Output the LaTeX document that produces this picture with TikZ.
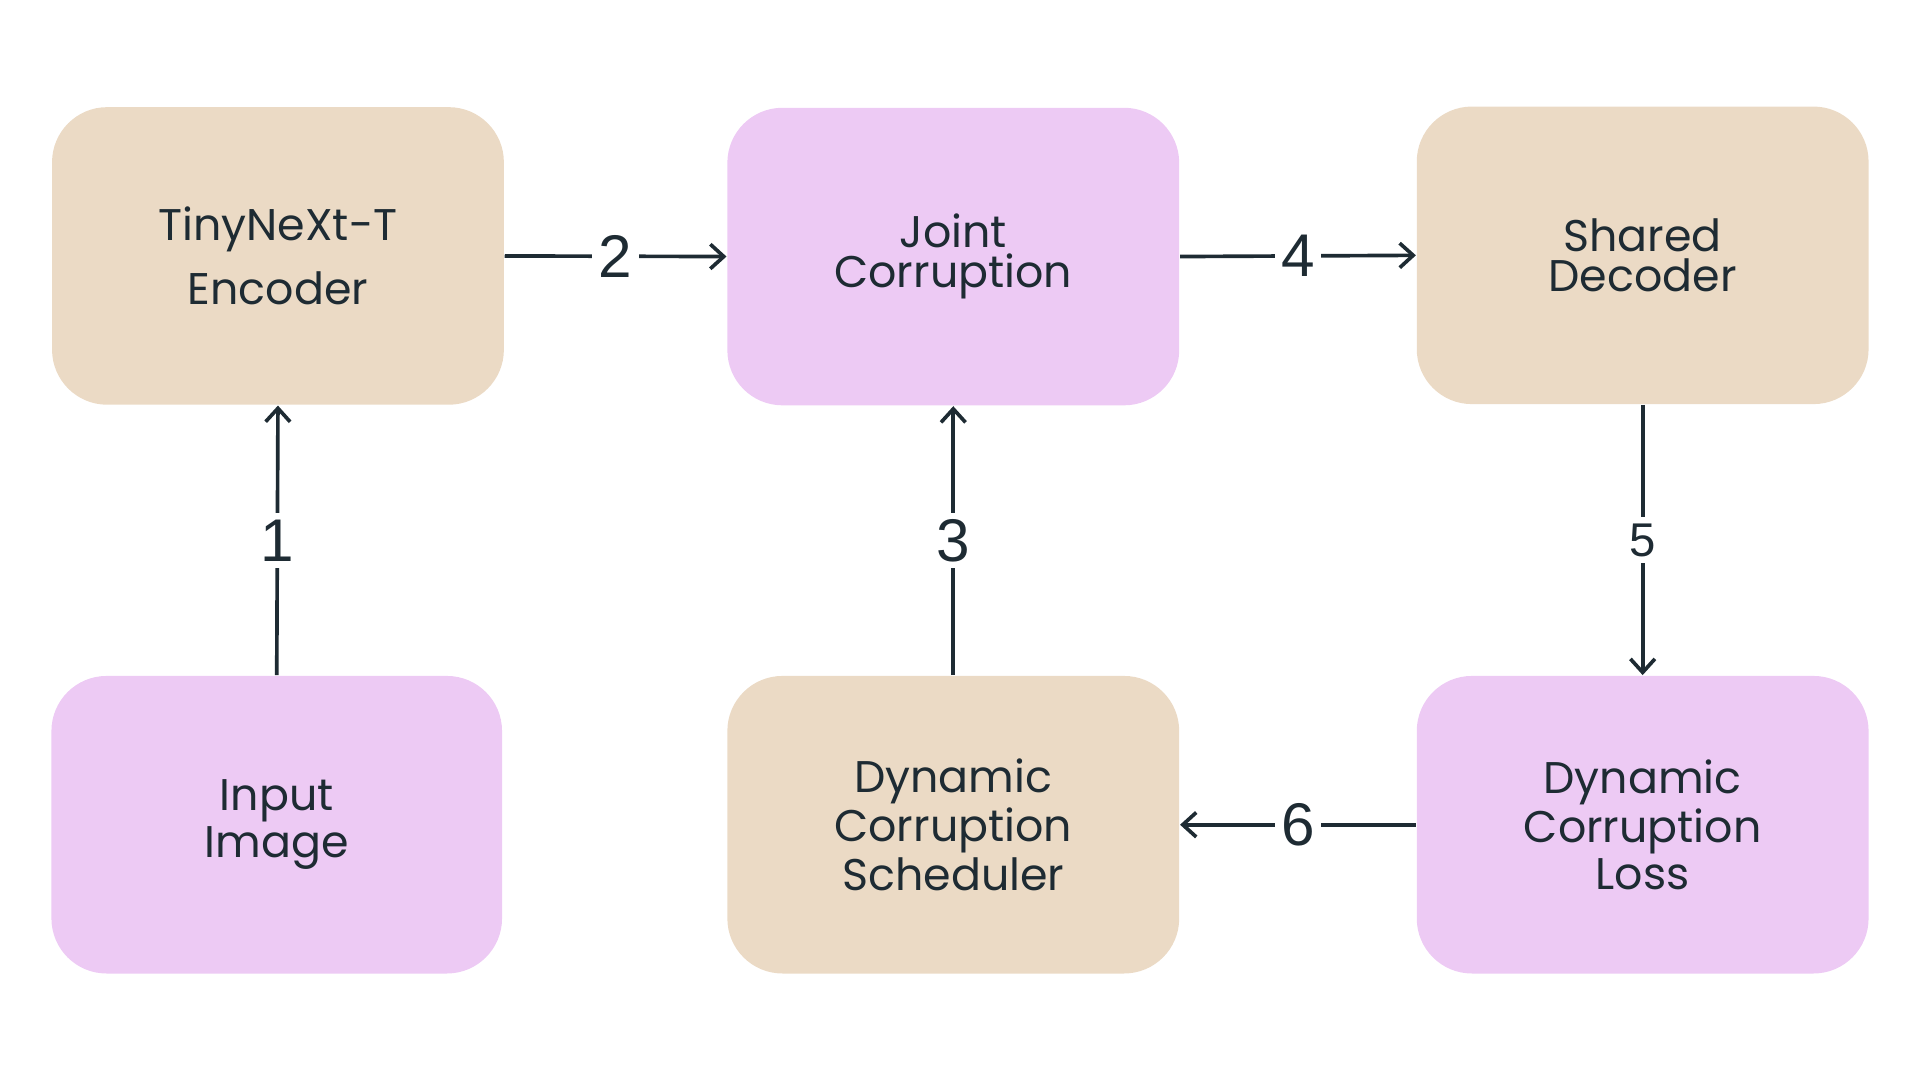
\documentclass[tikz,border=0pt]{standalone}
\usepackage{fontspec}
\setmainfont{Poppins}
\newfontfamily\numfont{Liberation Sans}
\usetikzlibrary{arrows.meta}
\definecolor{tan}{HTML}{EBDAC5}
\definecolor{lilac}{HTML}{EDCAF4}
\definecolor{ink}{HTML}{1E2B33}
\tikzset{
  box/.style={rounded corners=0.45cm, minimum width=3.69cm, minimum height=2.43cm,
    align=center, text=ink, font=\fontsize{10.3}{9.4}\selectfont},
  flow/.style={draw=ink, line width=0.85pt, -{Straight Barb[length=1.1mm,width=2mm]}},
  stepnum/.style={fill=white, text=ink, inner sep=1.5pt, font=\numfont\fontsize{14}{14}\selectfont},
}
\begin{document}
\begin{tikzpicture}[x=1cm,y=-1cm]
  \useasboundingbox (0,0) rectangle (15.68,8.82);
  % top row
  \node[box, fill=tan, font=\fontsize{10.3}{14.8}\selectfont] (enc) at (2.27,2.09) {TinyNeXt-T\\Encoder};
  \node[box, fill=lilac] (joint) at (7.785,2.095) {Joint\\Corruption};
  \node[box, fill=tan] (dec) at (13.415,2.085) {Shared\\Decoder};
  % bottom row
  \node[box, fill=lilac, minimum width=3.68cm] (img) at (2.26,6.735) {Input\\Image};
  \node[box, fill=tan] (sched) at (7.785,6.735) {Dynamic\\Corruption\\Scheduler};
  \node[box, fill=lilac] (loss) at (13.415,6.735) {Dynamic\\Corruption\\Loss};
  % connectors
  \draw[flow] (img.north) -- node[stepnum] {1} (enc.south);
  \draw[flow] (enc.east) -- node[stepnum] {2} (joint.west);
  \draw[flow] (sched.north) -- node[stepnum] {3} (joint.south);
  \draw[flow] (joint.east) -- node[stepnum] {4} (dec.west);
  \draw[flow] (dec.south) -- node[stepnum, font=\numfont\fontsize{11}{11}\selectfont] {5} (loss.north);
  \draw[flow] (loss.west) -- node[stepnum] {6} (sched.east);
\end{tikzpicture}
\end{document}
